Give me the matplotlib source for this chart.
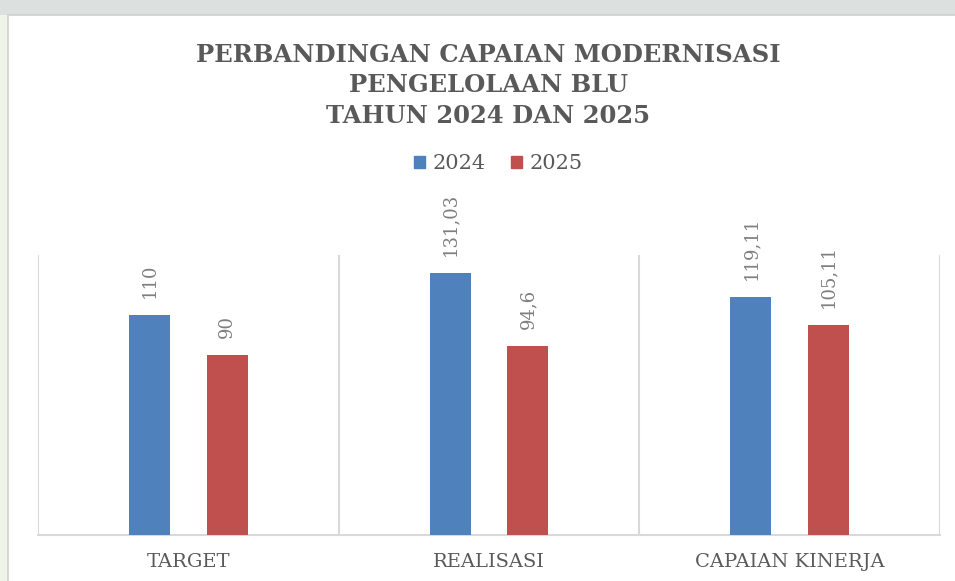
import matplotlib
matplotlib.use("Agg")
import matplotlib.pyplot as plt
from matplotlib.patches import Rectangle, Patch

categories = ["TARGET", "REALISASI", "CAPAIAN KINERJA"]
series_names = ["2024", "2025"]
values_2024 = [110, 131.03, 119.11]
values_2025 = [90, 94.6, 105.11]
title = "PERBANDINGAN CAPAIAN MODERNISASI\nPENGELOLAAN BLU\nTAHUN 2024 DAN 2025"

blue = "#4F81BD"
red = "#C0504D"
dark = "#595959"
labgray = "#7F7F7F"
font = "DejaVu Serif"

W, H = 955, 581
fig = plt.figure(figsize=(W / 100, H / 100), dpi=100)
fig.patch.set_facecolor("#EEF4E6")

# background strips + white card
fig.add_artist(Rectangle((0, 1 - 15 / H), 1, 15 / H, transform=fig.transFigure,
                         facecolor="#DCE1E0", edgecolor="none", zorder=0))
fig.add_artist(Rectangle((8 / W, -0.01), 1, 1 - 15 / H + 0.01, transform=fig.transFigure,
                         facecolor="white", edgecolor="#D0D0D0", linewidth=1.2, zorder=0))

ax = fig.add_axes([38 / W, 46 / H, (940 - 38) / W, 280 / H])
ax.set_facecolor("none")

x = list(range(len(categories)))
bw = 0.136
off = 0.129
b1 = ax.bar([i - off for i in x], values_2024, width=bw, color=blue, label=series_names[0], zorder=3)
b2 = ax.bar([i + off for i in x], values_2025, width=bw, color=red, label=series_names[1], zorder=3)

for bars, vals in ((b1, values_2024), (b2, values_2025)):
    for rect, v in zip(bars, vals):
        ax.annotate(f"{v:g}".replace(".", ","),
                    (rect.get_x() + rect.get_width() / 2, rect.get_height()),
                    xytext=(0, 12), textcoords="offset points", rotation=90,
                    ha="center", va="bottom", fontsize=13, color=labgray, family=font)

ax.set_xlim(-0.5, len(categories) - 0.5)
ax.set_ylim(0, 140)
ax.set_yticks([])
ax.set_xticks(x)
ax.set_xticklabels(categories, fontsize=14, color=dark, family=font)
ax.tick_params(axis="x", length=0, pad=13)
for b in [-0.5, 0.5, 1.5, 2.5]:
    ax.axvline(b, color="#D9D9D9", linewidth=1.5, zorder=1)
for s in ["top", "left", "right"]:
    ax.spines[s].set_visible(False)
ax.spines["bottom"].set_color("#D9D9D9")
ax.spines["bottom"].set_linewidth(1.5)

fig.text(488 / W, 1 - 43 / H, title, ha="center", va="top", fontsize=17.5,
         fontweight="bold", color=dark, family=font, linespacing=1.33)

fig.legend(handles=[Patch(color=blue, label=series_names[0]), Patch(color=red, label=series_names[1])],
           loc="center", bbox_to_anchor=(498 / W, 1 - 164 / H), ncol=2, frameon=False,
           prop={"family": font, "size": 15}, handlelength=0.55, handleheight=0.55,
           handletextpad=0.35, columnspacing=1.2, labelcolor=dark)

fig.savefig("out.png", dpi=100, facecolor=fig.get_facecolor())
